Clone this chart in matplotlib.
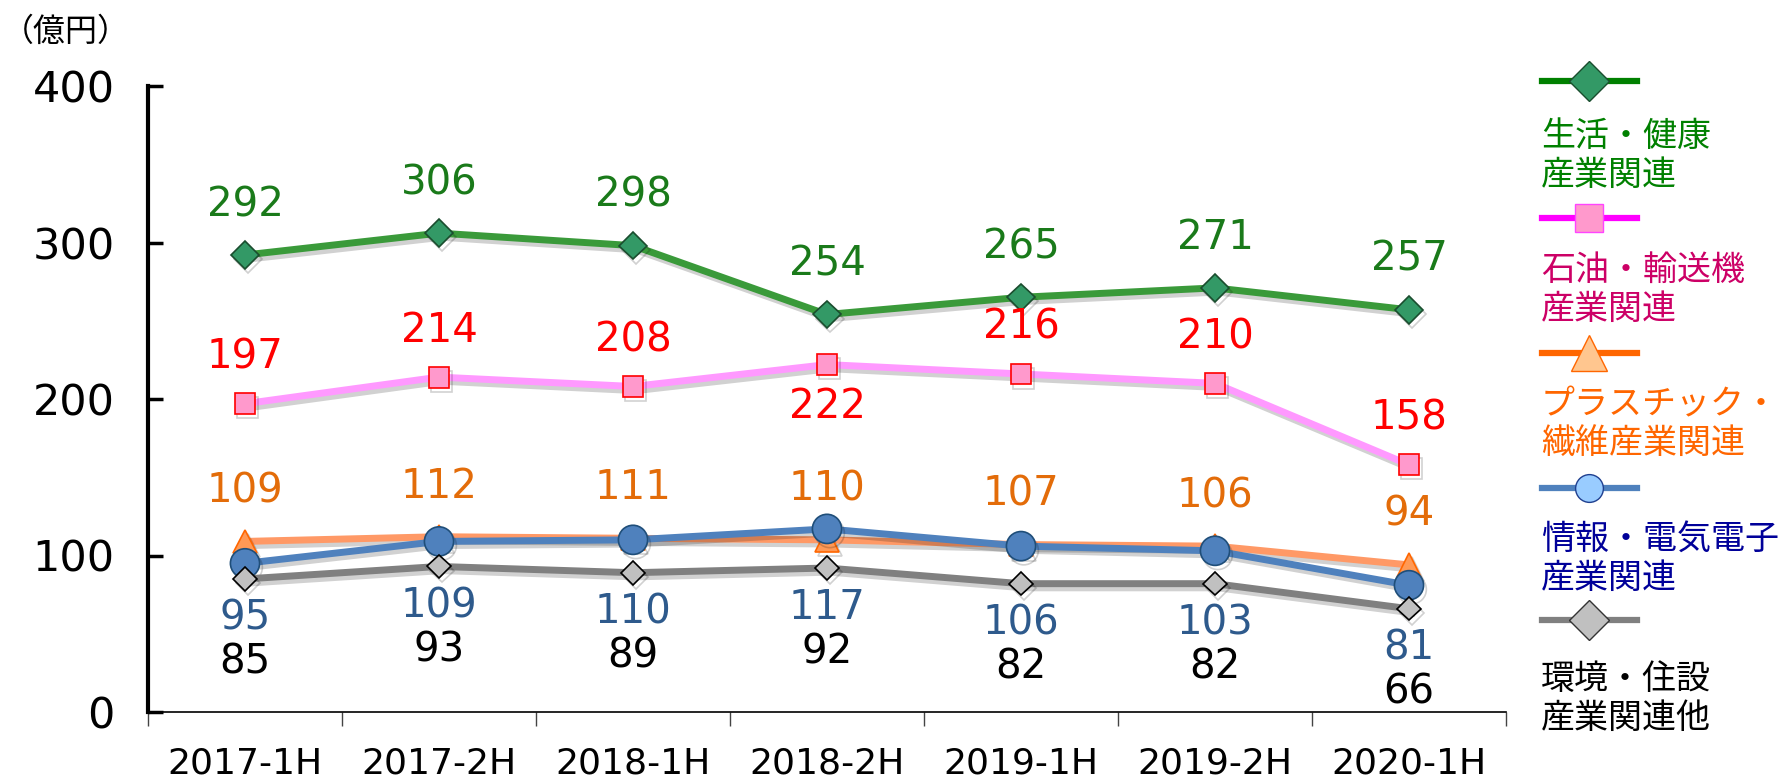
import matplotlib
matplotlib.use("Agg")
import matplotlib.pyplot as plt
import matplotlib.patheffects as pe
from matplotlib.lines import Line2D

plt.rcParams['font.family'] = ['DejaVu Sans', 'Noto Sans CJK JP']

periods = ["2017-1H", "2017-2H", "2018-1H", "2018-2H", "2019-1H", "2019-2H", "2020-1H"]

seikatsu = [292, 306, 298, 254, 265, 271, 257]
sekiyu = [197, 214, 208, 222, 216, 210, 158]
plastic = [109, 112, 111, 110, 107, 106, 94]
joho = [95, 109, 110, 117, 106, 103, 81]
kankyo = [85, 93, 89, 92, 82, 82, 66]

names = ["生活・健康\n産業関連", "石油・輸送機\n産業関連", "プラスチック・\n繊維産業関連",
         "情報・電気電子\n産業関連", "環境・住設\n産業関連他"]

W, H = 1789, 780
fig = plt.figure(figsize=(W / 100, H / 100), dpi=100)
ax = fig.add_axes([148 / W, 1 - 712 / H, (1506 - 148) / W, (712 - 86) / H])

x = range(len(periods))
shadow = [pe.SimpleLineShadow(offset=(2, -3), alpha=0.18, shadow_color='black'), pe.Normal()]

# style per series: line colour, marker, marker face, marker edge, size, label colour,
# value the label hangs from, label offset(px)
styles = [
    (plastic, '#ff9966', '^', '#ff9955', '#ff6600', 17, '#e36c09', plastic, 50),
    (joho, '#4f81bd', 'o', '#4f81bd', '#1f4e79', 21, '#2e5a8c', kankyo, -40),
    (kankyo, '#808080', 'D', '#c0c0c0', '#000000', 12, '#000000', kankyo, -84),
    (sekiyu, '#ff99ff', 's', '#ff99cc', '#ff0000', 15, '#ff0000', sekiyu, 46),
    (seikatsu, '#3a9a3a', 'D', '#339966', '#1a4d2e', 14, '#1a7a1a', seikatsu, 50),
]

for vals, lc, mk, mf, me, ms, tc, anchor, off in styles:
    ax.plot(x, vals, color=lc, lw=5, marker=mk, markersize=ms, markerfacecolor=mf,
            markeredgecolor=me, markeredgewidth=1.2, path_effects=shadow)
    for i, v in enumerate(vals):
        o = off
        if vals is sekiyu and v == max(sekiyu):
            o = -42
        ax.annotate(str(v), (i, anchor[i]), xytext=(0, o), textcoords='offset pixels',
                    ha='center', va='center', fontsize=29, color=tc)

ax.set_xlim(-0.5, len(periods) - 0.5)
ax.set_ylim(0, 400)
ax.set_yticks([0, 100, 200, 300, 400])
ax.tick_params(axis='y', direction='in', length=11, width=2.5, labelsize=31, pad=24)
ax.set_xticks([i - 0.5 for i in range(len(periods) + 1)])
ax.set_xticklabels([])
ax.set_xticks(list(x), minor=True)
ax.set_xticklabels(periods, minor=True, fontsize=26)
ax.tick_params(axis='x', which='major', direction='out', length=10, width=1, color='#444444')
ax.tick_params(axis='x', which='minor', length=0, pad=25)
for s in ['top', 'right']:
    ax.spines[s].set_visible(False)
ax.spines['left'].set_linewidth(3)
ax.spines['bottom'].set_linewidth(1.2)

fig.text(2 / W, 1 - 32 / H, "（億円）", fontsize=23, family='Noto Sans CJK JP',
         ha='left', va='center')

# legend drawn by hand: handle above, two-line label below
lg = fig.add_axes([1520 / W, 0, (W - 1520) / W, 1])
lg.set_xlim(1520, W)
lg.set_ylim(H, 0)
lg.axis('off')
leg = [
    ('#008000', '#339966', '#1a4d2e', 'D', 20, '#008000', 81, 119),
    ('#ff00ff', '#ff99cc', '#ff44ff', 's', 20, '#cc0066', 218, 253),
    ('#ff6600', '#ffc68f', '#ff6600', '^', 26, '#ff6600', 353, 387),
    ('#4f81bd', '#99ccff', '#1f3f8f', 'o', 20, '#000099', 488, 522),
    ('#808080', '#c0c0c0', '#333333', 'D', 20, '#000000', 620, 662),
]
for (lc, mf, me, mk, ms, tc, yl, yt), name in zip(leg, names):
    lg.add_line(Line2D([1542, 1637], [yl, yl], color=lc, lw=4.5))
    lg.add_line(Line2D([1589], [yl], marker=mk, markersize=ms, markerfacecolor=mf,
                       markeredgecolor=me, markeredgewidth=1))
    lg.text(1541, yt, name, color=tc, fontsize=24.5, family='Noto Sans CJK JP',
            ha='left', va='top', linespacing=1.15)

fig.savefig("out.png", dpi=100)
